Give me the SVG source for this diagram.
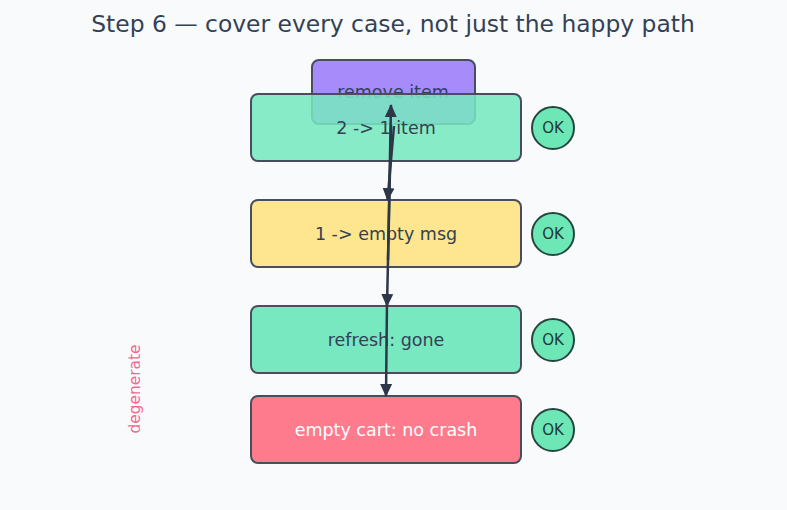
<svg xmlns="http://www.w3.org/2000/svg" width="787" height="510" viewBox="0 0 787 510">
  <defs>
    <marker id="arrow" markerUnits="userSpaceOnUse" markerWidth="14" markerHeight="14" viewBox="0 0 14 14" refX="12" refY="7" orient="auto">
      <path d="M0,1 L13,7 L0,13 Z" fill="#2d3748"/>
    </marker>
    <style>
      .box { stroke: #474f5e; stroke-width: 2; }
      .lbl { font-family: "DejaVu Sans", "Noto Sans", sans-serif; font-size: 17.5px; fill: #334155; text-anchor: middle; dominant-baseline: central; }
      .ok circle { fill: #6ee7b7; stroke: #25463f; stroke-width: 2; }
      .ok text { font-family: "DejaVu Sans", "Noto Sans", sans-serif; font-size: 15px; fill: #1f3b36; text-anchor: middle; dominant-baseline: central; }
      .edge { stroke: #2d3748; stroke-width: 2.5; fill: none; marker-end: url(#arrow); }
    </style>
  </defs>
  <rect width="787" height="510" fill="#f9fafc"/>
  <text x="393" y="32" font-family="DejaVu Sans, Noto Sans, sans-serif" font-size="23.4" fill="#334155" text-anchor="middle">Step 6 — cover every case, not just the happy path</text>

  <g id="remove-item">
    <rect class="box" x="312" y="60" width="163" height="64" rx="7" fill="#a78bfa"/>
    <text class="lbl" x="393" y="92">remove item</text>
  </g>
  <g id="two-to-one">
    <rect class="box" x="251" y="94" width="270" height="67" rx="7" fill="#76e8bf" fill-opacity="0.86"/>
    <text class="lbl" x="386" y="128">2 -&gt; 1 item</text>
  </g>
  <g id="one-to-empty">
    <rect class="box" x="251" y="200" width="270" height="67" rx="7" fill="#fde68f"/>
    <text class="lbl" x="386" y="234">1 -&gt; empty msg</text>
  </g>
  <g id="refresh">
    <rect class="box" x="251" y="306" width="270" height="67" rx="7" fill="#78e8c0"/>
    <text class="lbl" x="386" y="340">refresh: gone</text>
  </g>
  <g id="empty-cart">
    <rect class="box" x="251" y="396" width="270" height="67" rx="7" fill="#fd7b8d"/>
    <text class="lbl" x="386" y="430" style="fill:#ffffff">empty cart: no crash</text>
  </g>

  <g id="ok1" class="ok"><circle cx="553" cy="128" r="21"/><text x="553" y="128">OK</text></g>
  <g id="ok2" class="ok"><circle cx="553" cy="234" r="21"/><text x="553" y="234">OK</text></g>
  <g id="ok3" class="ok"><circle cx="553" cy="340" r="21"/><text x="553" y="340">OK</text></g>
  <g id="ok4" class="ok"><circle cx="553" cy="430" r="21"/><text x="553" y="430">OK</text></g>

  <text id="degenerate" transform="translate(140,389) rotate(-90)" font-family="DejaVu Sans, Noto Sans, sans-serif" font-size="15.4" fill="#f06a92" text-anchor="middle">degenerate</text>

  <g id="connectors">
    <path class="edge" d="M394,126 L387.5,200"/>
    <path class="edge" d="M391,125 L387,306"/>
    <path class="edge" d="M388,260 L391,105"/>
    <path class="edge" d="M387,300 L386,396"/>
  </g>
</svg>
